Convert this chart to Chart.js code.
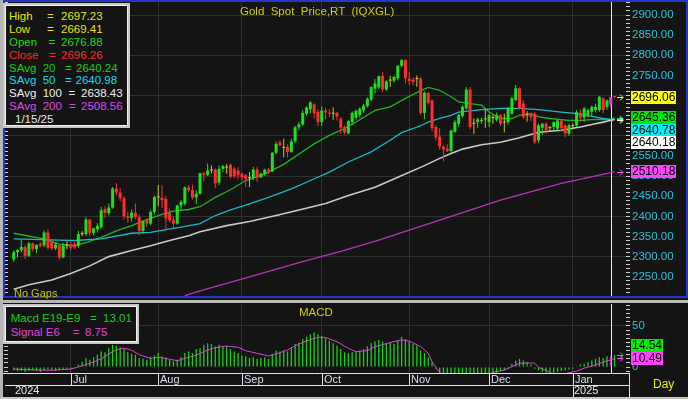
<!DOCTYPE html>
<html lang="en">
<head>
<meta charset="UTF-8">
<meta name="viewport" content="width=device-width, initial-scale=1.0">
<title>Gold Spot Price,RT (IQXGL)</title>
<script src="https://cdn.jsdelivr.net/npm/chart.js"></script>
<style>
    body, html {
        margin: 0;
        padding: 0;
        background: #141414;
    }
    #wrap {
        position: relative;
        width: 688px;
        height: 399px;
        overflow: hidden;
        background: #141414;
        font-family: "Liberation Sans", Arial, sans-serif;
    }
    canvas { position: absolute; left: 0; }
    #priceChart { top: 0; }
    #macdChart { top: 303px; }

    /* window frame bits */
    .frame { position: absolute; left: 3px; top: 0; width: 685px; height: 298px; box-sizing: border-box; border: 2px solid #2636c8; }
    .edge { position: absolute; left: 0; top: 0; width: 3px; height: 399px; background: #b4b4b4; }
    .sep { position: absolute; left: 0; top: 300px; width: 688px; height: 3px; background: #b8b8b8; }
    .bottom { position: absolute; left: 0; top: 397px; width: 688px; height: 2px; background: #c4c4c4; }
    .box { position: absolute; box-sizing: border-box; background: #141414; border: 2px solid #c8c8c8; box-shadow: inset 0 0 0 1px #f2f2f2; }
    .txt { position: absolute; white-space: pre; font-size: 11.5px; line-height: 14px; }
</style>
</head>
<body>
<div id="wrap">
    <canvas id="priceChart" width="688" height="299"></canvas>
    <canvas id="macdChart" width="688" height="96"></canvas>
    <div class="edge"></div>
    <div class="frame"></div>
    <div class="sep"></div>
    <div class="bottom"></div>
    <div class="box" style="left:3px; top:3px; width:127px; height:125px;"></div>
    <div class="box" style="left:3px; top:304px; width:136px; height:40px;"></div>
</div>

<script>
    // ---- data (daily, Jun 10 2024 .. Jan 16 2025) ----
    const months   = ['Jul', 'Aug', 'Sep', 'Oct', 'Nov', 'Dec', 'Jan'];
    const monthIdx = [15, 38, 60, 81, 104, 125, 147];
    const years    = ['2024', '2025'];
    const yearIdx  = [0, 147];
    const cursorIdx = 157;
    const cursorDate = '1/15/25';

    const opens = [
        2293, 2311, 2316, 2324, 2302, 2333, 2319, 2332, 2328, 2360,
        2336, 2320, 2328, 2298, 2327, 2330, 2332, 2327, 2356, 2356,
        2392, 2359, 2368, 2373, 2418, 2408, 2422, 2469, 2459, 2445,
        2400, 2396, 2409, 2398, 2364, 2392, 2382, 2411, 2447, 2446,
        2443, 2408, 2390, 2382, 2427, 2431, 2472, 2465, 2447, 2456,
        2507, 2503, 2514, 2516, 2484, 2518, 2521, 2528, 2518, 2514,
        2506, 2502, 2495, 2495, 2516, 2497, 2506, 2516, 2512, 2558,
        2584, 2570, 2572, 2560, 2586, 2621, 2628, 2655, 2666, 2678,
        2660, 2634, 2663, 2658, 2655, 2657, 2643, 2622, 2606, 2634,
        2645, 2652, 2663, 2674, 2690, 2717, 2720, 2749, 2715, 2737,
        2737, 2743, 2774, 2788, 2742, 2740, 2741, 2742, 2657, 2706,
        2688, 2622, 2598, 2573, 2568, 2562, 2610, 2630, 2649, 2668,
        2715, 2630, 2634, 2636, 2641, 2634, 2644, 2640, 2651, 2633,
        2634, 2655, 2689, 2718, 2680, 2651, 2655, 2655, 2589, 2620,
        2630, 2619, 2622, 2618, 2638, 2626, 2605, 2624, 2626, 2657,
        2645, 2652, 2660, 2664, 2664, 2693, 2672, 2676.88, 2697.2
    ];
    const highs = [
        2316, 2319, 2342, 2329, 2336, 2335, 2331, 2336, 2365, 2368,
        2340, 2334, 2331, 2334, 2338, 2336, 2336, 2364, 2363, 2398,
        2394, 2372, 2383, 2424, 2425, 2432, 2473, 2483, 2470, 2450,
        2411, 2417, 2432, 2404, 2390, 2394, 2415, 2451, 2478, 2477,
        2450, 2419, 2400, 2429, 2440, 2474, 2478, 2479, 2464, 2509,
        2510, 2531, 2526, 2519, 2526, 2528, 2530, 2531, 2523, 2522,
        2508, 2505, 2510, 2523, 2523, 2508, 2518, 2520, 2560, 2586,
        2589, 2593, 2579, 2592, 2625, 2634, 2664, 2673, 2686, 2681,
        2666, 2673, 2669, 2666, 2671, 2660, 2646, 2626, 2640, 2661,
        2665, 2671, 2679, 2696, 2723, 2741, 2749, 2758, 2738, 2749,
        2750, 2776, 2790, 2790, 2759, 2745, 2750, 2746, 2710, 2709,
        2690, 2626, 2619, 2576, 2579, 2615, 2639, 2654, 2675, 2721,
        2721, 2643, 2645, 2645, 2665, 2655, 2652, 2658, 2654, 2655,
        2672, 2697, 2726, 2720, 2689, 2661, 2658, 2660, 2630, 2632,
        2634, 2625, 2636, 2642, 2641, 2630, 2630, 2631, 2664, 2665,
        2672, 2668, 2675, 2680, 2699, 2695, 2690, 2697.23, 2699
    ];
    const lows = [
        2287, 2298, 2311, 2294, 2299, 2313, 2309, 2323, 2324, 2317,
        2316, 2316, 2293, 2296, 2319, 2316, 2319, 2322, 2351, 2352,
        2352, 2353, 2360, 2370, 2396, 2402, 2419, 2451, 2438, 2392,
        2384, 2387, 2393, 2353, 2358, 2375, 2378, 2405, 2425, 2421,
        2364, 2385, 2368, 2380, 2415, 2427, 2460, 2442, 2431, 2454,
        2487, 2500, 2507, 2470, 2478, 2510, 2506, 2494, 2496, 2492,
        2489, 2472, 2473, 2490, 2485, 2495, 2500, 2505, 2510, 2554,
        2574, 2547, 2546, 2558, 2583, 2614, 2625, 2650, 2656, 2643,
        2624, 2624, 2642, 2647, 2640, 2638, 2605, 2603, 2604, 2626,
        2640, 2645, 2657, 2670, 2686, 2705, 2716, 2708, 2712, 2722,
        2732, 2738, 2770, 2730, 2726, 2725, 2722, 2652, 2641, 2678,
        2611, 2589, 2565, 2537, 2560, 2558, 2607, 2623, 2645, 2665,
        2616, 2605, 2620, 2630, 2620, 2622, 2630, 2635, 2625, 2609,
        2628, 2652, 2686, 2665, 2643, 2635, 2637, 2580, 2583, 2602,
        2605, 2610, 2612, 2614, 2611, 2597, 2600, 2618, 2622, 2636,
        2635, 2644, 2650, 2658, 2660, 2656, 2665, 2669.41, 2694
    ];
    const closes = [
        2311, 2316, 2324, 2302, 2333, 2319, 2329, 2327, 2360, 2322,
        2320, 2330, 2298, 2327, 2327, 2322, 2323, 2356, 2356, 2392,
        2359, 2370, 2376, 2415, 2408, 2422, 2469, 2459, 2445, 2400,
        2396, 2409, 2398, 2364, 2387, 2382, 2411, 2448, 2447, 2440,
        2395, 2390, 2382, 2427, 2436, 2472, 2465, 2447, 2456, 2507,
        2503, 2514, 2514, 2482, 2518, 2525, 2521, 2498, 2500, 2503,
        2497, 2493, 2495, 2516, 2497, 2506, 2516, 2512, 2558, 2580,
        2577, 2570, 2560, 2586, 2621, 2628, 2657, 2670, 2683, 2656,
        2634, 2663, 2658, 2655, 2655, 2648, 2620, 2608, 2636, 2657,
        2662, 2667, 2675, 2692, 2721, 2730, 2748, 2715, 2735, 2737,
        2746, 2774, 2788, 2743, 2736, 2734, 2741, 2657, 2707, 2682,
        2619, 2596, 2573, 2566, 2562, 2613, 2634, 2651, 2672, 2715,
        2622, 2630, 2641, 2640, 2641, 2651, 2644, 2652, 2630, 2633,
        2668, 2693, 2718, 2668, 2647, 2651, 2647, 2584, 2626, 2630,
        2613, 2619, 2634, 2638, 2619, 2606, 2626, 2624, 2659, 2645,
        2668, 2663, 2672, 2672, 2697, 2664, 2688, 2696.26, 2696.06
    ];

    // simple averages (day index, value)
    const sma20X = [0, 8, 12, 16, 19, 23, 27, 31, 35, 39, 42, 46, 49, 53, 57, 61, 65, 67, 71, 75, 79, 83, 87, 91, 95, 99, 103, 107, 109, 112, 115, 117, 120, 123, 125, 128, 131, 133, 136, 138, 141, 144, 146, 149, 152, 155, 157, 158];
    const sma20Y = [2358, 2344, 2331, 2327, 2335, 2348, 2364, 2377, 2392, 2405, 2413, 2417, 2424, 2447, 2466, 2489, 2501, 2510, 2529, 2555, 2580, 2601, 2618, 2640, 2663, 2672, 2693, 2712, 2720, 2713, 2697, 2684, 2680, 2676, 2659, 2643, 2643, 2651, 2655, 2647, 2643, 2640, 2638, 2638, 2640, 2641, 2640.24, 2645.36];
    const sma50X = [0, 12, 16, 23, 31, 36, 40, 44, 49, 53, 57, 62, 67, 73, 78, 83, 88, 94, 99, 102, 104, 107, 109, 112, 115, 117, 123, 128, 133, 138, 144, 148, 152, 155, 157, 158];
    const sma50Y = [2344, 2341, 2340, 2344, 2358, 2360, 2367, 2373, 2382, 2402, 2416, 2431, 2447, 2468, 2489, 2510, 2535, 2560, 2589, 2608, 2615, 2625, 2634, 2643, 2651, 2659, 2665, 2668, 2668, 2665, 2659, 2655, 2648, 2643, 2640.98, 2640.78];
    const sma100X = [0, 4, 10, 15, 20, 25, 31, 36, 41, 46, 49, 56, 62, 69, 75, 82, 88, 95, 101, 108, 112, 115, 118, 123, 128, 133, 138, 144, 149, 152, 155, 157, 158];
    const sma100Y = [2219, 2230, 2242, 2258, 2277, 2300, 2315, 2327, 2340, 2352, 2362, 2377, 2387, 2402, 2416, 2432, 2452, 2472, 2497, 2526, 2544, 2556, 2567, 2578, 2584, 2595, 2609, 2614, 2622, 2628, 2634, 2638.43, 2640.18];
    const sma200X = [45, 49, 62, 75, 86, 96, 115, 128, 144, 157, 158];
    const sma200Y = [2203, 2215, 2250, 2285, 2313, 2341, 2400, 2440, 2482, 2508.56, 2510.18];

    // MACD E19-E9 per day, and its E6 signal (day index, value)
    const macd = [
        -4, -5, -5, -6, -5, -4, -5, -6, -4, -3, -4, -5, -4, -3, -2, -2, -1,
        3, 6, 11, 9, 12, 15, 19, 18, 23, 27, 26, 24, 22,
        18, 16, 15, 11, 10, 9, 12, 14, 17, 13,
        12, 9, 7, 9, 12, 17, 19, 17, 22, 23,
        27, 29, 28, 25, 27, 24, 25, 22, 19, 17,
        14, 13, 11, 12, 10, 11, 12, 10, 16, 20,
        19, 20, 19, 24, 28, 30, 34, 37, 40, 42,
        40, 38, 35, 32, 29, 26, 22, 18, 17, 18,
        19, 20, 22, 25, 29, 31, 33, 31, 29, 30,
        28, 32, 37, 34, 31, 28, 26, 20, 17, 12,
        6, -2,
        -8, -13, -18, -22, -24, -23, -21, -19, -16, -14, -12, -11, -10, -9, -8, -7, -5, -4, -2,
        4, 8, 10, 8, 6, 3,
        -2, -4, -6, -7, -8, -7, -6, -5, -4, -3, -2,
        1, 3, 4, 6, 8, 10, 12, 11, 13, 13.01, 14.54
    ];
    const signalX = [0, 5, 10, 15, 17, 19, 21, 23, 25, 27, 29, 31, 33, 36, 38, 41, 43, 46, 48, 51, 53, 56, 59, 61, 64, 67, 69, 72, 74, 77, 80, 82, 85, 88, 90, 93, 95, 98, 100, 102, 104, 107, 109, 110, 112, 115, 119, 123, 126, 129, 132, 133, 136, 137, 138, 140, 141, 143, 145, 148, 150, 153, 155, 157, 158];
    const signalY = [-2.5, -3.5, -4, -2.5, 0, 3, 6, 10, 16, 21, 23, 20.5, 15, 10.5, 11.8, 9.4, 7.7, 11.8, 14.6, 20.7, 23.5, 25.6, 24, 19.9, 16.7, 13.4, 15.9, 20.7, 25.6, 32, 36.2, 36, 30.9, 22.8, 18.7, 20, 24.8, 28.5, 31, 33, 31.5, 25, 16.7, 6.5, -7, -14, -17, -13, -6.5, -3.7, 2.4, 4.5, 5, 4.5, -0.5, -4, -7, -9, -8, -5, -1.4, 2.4, 6, 8.75, 10.49];

    // ---- helpers ----
    const FONT = "'Liberation Sans', Arial, sans-serif";
    const xMin = -1.5, xMax = 161;
    const last = closes.length - 1;
    const pts = (xs, ys) => xs.map((x, k) => ({ x: x, y: ys[k] }));
    const valueAt = (xs, ys, i) => ys[xs.indexOf(i)];

    const priceTicks = [];
    for (let v = 2210; v <= 2930; v += 10) priceTicks.push(v);
    const macdTicks = [];
    for (let v = -5; v <= 75; v += 5) macdTicks.push(v);

    function candleColor(i) {
        if (i === cursorIdx) return '#e43ee4';
        const d = closes[i] - opens[i];
        if (Math.abs(d) < 0.5) return '#c9c914';
        return d > 0 ? '#1ce21c' : '#ff2d2d';
    }

    function cursorLine(chart) {
        const { ctx, chartArea, scales } = chart;
        const x = Math.round(scales.x.getPixelForValue(cursorIdx)) + 0.5;
        ctx.save();
        ctx.strokeStyle = '#ececec';
        ctx.lineWidth = 1;
        ctx.beginPath();
        ctx.moveTo(x, chartArea.top);
        ctx.lineTo(x, chartArea.bottom);
        ctx.stroke();
        ctx.restore();
    }

    // last-value boxes on the right axis, nudged apart like the original
    function drawTags(chart, tags, width, up) {
        const { ctx, scales } = chart;
        tags.forEach(t => { t.py = scales.y.getPixelForValue(t.v); });
        const order = tags.slice().sort((a, b) => up ? b.py - a.py : a.py - b.py);
        let prev = null;
        order.forEach(t => {
            t.ty = t.py;
            if (prev !== null) t.ty = up ? Math.min(t.py, prev - 12.5) : Math.max(t.py, prev + 12.5);
            prev = t.ty;
        });
        ctx.save();
        ctx.font = '12px ' + FONT;
        ctx.textBaseline = 'middle';
        ctx.lineWidth = 1;
        tags.forEach(t => {
            const y = Math.round(t.py) + 0.5;
            ctx.strokeStyle = t.bg;
            ctx.beginPath();
            ctx.moveTo(617, y); ctx.lineTo(623, y);
            ctx.moveTo(620, y - 3); ctx.lineTo(623, y); ctx.lineTo(620, y + 3);
            ctx.stroke();
        });
        tags.forEach(t => {
            const top = Math.round(t.ty - 6.5);
            ctx.fillStyle = t.bg;
            ctx.fillRect(631, top, width, 13);
            ctx.fillStyle = '#000';
            ctx.fillText(t.v.toFixed(2), 632, top + 7);
        });
        ctx.restore();
    }

    function drawDateStrip(chart) {
        const { ctx, chartArea, scales } = chart;
        const top = chartArea.bottom;
        const px = i => Math.round(scales.x.getPixelForValue(i));
        ctx.save();
        ctx.strokeStyle = '#e4e4e4';
        ctx.lineWidth = 1;
        ctx.beginPath();
        ctx.moveTo(0, top + 0.5); ctx.lineTo(629, top + 0.5);
        ctx.moveTo(5, top + 12.5); ctx.lineTo(629, top + 12.5);
        ctx.moveTo(629.5, top); ctx.lineTo(629.5, top + 24);
        monthIdx.forEach(m => {
            ctx.moveTo(px(m) + 0.5, top);
            ctx.lineTo(px(m) + 0.5, yearIdx.includes(m) ? top + 24 : top + 12);
        });
        ctx.stroke();
        ctx.font = '11px ' + FONT;
        ctx.textBaseline = 'middle';
        ctx.fillStyle = '#d8dcf0';
        months.forEach((name, k) => ctx.fillText(name, px(monthIdx[k]) + 2, top + 7));
        ctx.fillStyle = '#e8e8e8';
        years.forEach((name, k) => ctx.fillText(name, px(yearIdx[k]) + 1, top + 18));
        ctx.restore();
    }

    const xScale = {
        type: 'linear', min: xMin, max: xMax, offset: false,
        grid: { color: '#303030', offset: false, drawTicks: false },
        border: { display: false },
        ticks: { display: false },
        afterBuildTicks: s => { s.ticks = monthIdx.map(v => ({ value: v })); },
        afterFit: s => { s.height = 0; }
    };

    function sideTicks(list) {
        return {
            type: 'linear', position: 'left', min: 0, max: 1,
            grid: { drawOnChartArea: false, tickLength: 4, tickColor: '#d0d0d0' },
            border: { display: false },
            ticks: { display: false },
            afterBuildTicks: s => { s.ticks = list.map(v => ({ value: v })); },
            afterFit: s => { s.width = 4; s.paddingTop = 0; s.paddingBottom = 0; }
        };
    }

    const common = {
        responsive: false,
        animation: false,
        devicePixelRatio: 1,
        events: [],
        plugins: { legend: { display: false }, tooltip: { enabled: false } }
    };

    // ---- price pane ----
    const days = closes.map((c, i) => i);
    const priceMin = 2202.2, priceMax = 2932.3;
    const leftPrice = sideTicks(priceTicks);
    leftPrice.min = priceMin; leftPrice.max = priceMax;

    new Chart(document.getElementById('priceChart'), {
        type: 'bar',
        data: {
            datasets: [
                { type: 'line', data: pts(sma200X, sma200Y), borderColor: '#b537b5', borderWidth: 1.3, pointRadius: 0, yAxisID: 'y', order: 2, clip: 0 },
                { type: 'line', data: pts(sma100X, sma100Y), borderColor: '#c8c8c8', borderWidth: 1.6, pointRadius: 0, yAxisID: 'y', order: 2, clip: 0 },
                { type: 'line', data: pts(sma50X, sma50Y), borderColor: '#17b9c9', borderWidth: 1.3, pointRadius: 0, yAxisID: 'y', order: 2, clip: 0 },
                { type: 'line', data: pts(sma20X, sma20Y), borderColor: '#1fb51f', borderWidth: 1.3, pointRadius: 0, yAxisID: 'y', order: 2, clip: 0 },
                {
                    data: days.map(i => ({ x: i, y: [lows[i], highs[i]] })),
                    backgroundColor: ctx => candleColor(ctx.dataIndex),
                    barThickness: 1, maxBarThickness: 1, grouped: false, inflateAmount: 0,
                    yAxisID: 'y', order: 1, clip: 0
                },
                {
                    data: days.map(i => ({ x: i, y: [opens[i], closes[i]] })),
                    backgroundColor: ctx => candleColor(ctx.dataIndex),
                    barThickness: 3, maxBarThickness: 3, minBarLength: 1, grouped: false, inflateAmount: 0,
                    yAxisID: 'y', order: 0, clip: 0
                }
            ]
        },
        options: Object.assign({}, common, {
            layout: { padding: { left: 4, right: 0, top: 2, bottom: 3 } },
            scales: {
                x: xScale,
                y: {
                    type: 'linear', position: 'right', min: priceMin, max: priceMax, beginAtZero: false,
                    afterBuildTicks: s => { s.ticks = priceTicks.map(v => ({ value: v })); },
                    ticks: {
                        autoSkip: false, color: '#22c4dc', padding: 2, font: { family: FONT, size: 11.5 },
                        callback: v => (v % 50 === 0 && v >= 2250 && v <= 2900) ? v.toFixed(2) : ''
                    },
                    grid: {
                        color: c => (c.tick && c.tick.value % 100 === 0) ? '#303030' : 'rgba(0,0,0,0)',
                        tickColor: '#d0d0d0', tickLength: 4
                    },
                    border: { display: false },
                    afterFit: s => { s.width = 62; s.paddingTop = 0; s.paddingBottom = 0; }
                },
                yl: leftPrice
            }
        }),
        plugins: [{
            id: 'priceOverlay',
            beforeDatasetsDraw: cursorLine,
            afterDraw: chart => drawTags(chart, [
                { v: closes[last], bg: '#ffff00' },
                { v: sma20Y[sma20Y.length - 1], bg: '#00e400' },
                { v: sma50Y[sma50Y.length - 1], bg: '#00eef4' },
                { v: sma100Y[sma100Y.length - 1], bg: '#ffffff' },
                { v: sma200Y[sma200Y.length - 1], bg: '#ff44ff' }
            ], 45, false)
        }]
    });

    // ---- MACD pane ----
    const macdMin = -7.3, macdMax = 76.8;
    const leftMacd = sideTicks(macdTicks);
    leftMacd.min = macdMin; leftMacd.max = macdMax;

    new Chart(document.getElementById('macdChart'), {
        type: 'bar',
        data: {
            datasets: [
                { type: 'line', data: pts(signalX, signalY), borderColor: '#e040e0', borderWidth: 1, pointRadius: 0, yAxisID: 'y', order: 0, clip: 0 },
                {
                    data: days.map(i => ({ x: i, y: macd[i] })),
                    backgroundColor: ctx => ctx.dataIndex === cursorIdx ? '#e040e0' : '#14d414',
                    barThickness: 1.3, maxBarThickness: 1.3, grouped: false, inflateAmount: 0,
                    yAxisID: 'y', order: 1, clip: 0
                }
            ]
        },
        options: Object.assign({}, common, {
            layout: { padding: { left: 4, right: 0, top: 1, bottom: 26 } },
            scales: {
                x: xScale,
                y: {
                    type: 'linear', position: 'right', min: macdMin, max: macdMax, beginAtZero: false,
                    afterBuildTicks: s => { s.ticks = macdTicks.map(v => ({ value: v })); },
                    ticks: {
                        autoSkip: false, color: '#22c4dc', padding: 2, font: { family: FONT, size: 11.5 },
                        callback: v => (v === 0 || v === 50) ? String(v) : ''
                    },
                    grid: {
                        color: c => (c.tick && c.tick.value === 50) ? '#303030' : 'rgba(0,0,0,0)',
                        tickColor: '#d0d0d0', tickLength: 4
                    },
                    border: { display: false },
                    afterFit: s => { s.width = 62; s.paddingTop = 0; s.paddingBottom = 0; }
                },
                yl: leftMacd
            }
        }),
        plugins: [{
            id: 'macdOverlay',
            beforeDatasetsDraw: cursorLine,
            afterDraw: chart => {
                drawTags(chart, [
                    { v: macd[last], bg: '#00ee00' },
                    { v: signalY[signalY.length - 1], bg: '#ff44ff' }
                ], 32, true);
                drawDateStrip(chart);
            }
        }]
    });

    // ---- text overlays ----
    const wrap = document.getElementById('wrap');
    function addText(text, x, yc, color, size) {
        const el = document.createElement('div');
        el.className = 'txt';
        el.textContent = text;
        el.style.left = x + 'px';
        el.style.top = (yc - 7) + 'px';
        el.style.color = color;
        if (size) el.style.fontSize = size + 'px';
        wrap.appendChild(el);
    }

    const c = cursorIdx;
    const legendRows = [
        ['High', highs[c], '#e4e400', 47, 61],
        ['Low', lows[c], '#e4e400', 47, 61],
        ['Open', opens[c], '#14dc14', 48.5, 61],
        ['Close', closes[c], '#ff2828', 49, 61],
        ['SAvg  20', valueAt(sma20X, sma20Y, c), '#14d014', 65, 76],
        ['SAvg  50', valueAt(sma50X, sma50Y, c), '#14d8e8', 65, 75.5],
        ['SAvg  100', valueAt(sma100X, sma100Y, c), '#f0f0f0', 68.5, 81],
        ['SAvg  200', valueAt(sma200X, sma200Y, c), '#e040e8', 69, 81]
    ];
    legendRows.forEach((r, k) => {
        const yc = 15.7 + k * 12.95;
        addText(r[0], 9, yc, r[2]);
        addText('=', r[3], yc, r[2]);
        addText(r[1].toFixed(2), r[4], yc, r[2]);
    });
    addText(cursorDate, 15, 15.7 + 8 * 12.95, '#e8e8e8');

    addText('Macd E19-E9', 10.7, 318.3, '#14d014');
    addText('=', 90, 318.3, '#14d014');
    addText(macd[c].toFixed(2), 103, 318.3, '#14d014');
    addText('Signal E6', 10.7, 331.7, '#e040e0');
    addText('=', 72.7, 331.7, '#e040e0');
    addText(valueAt(signalX, signalY, c).toFixed(2), 85, 331.7, '#e040e0');

    addText('Gold  Spot  Price,RT  (IQXGL)', 240, 11, '#d0d000');
    addText('No Gaps', 14, 292.5, '#c8c800', 11);
    addText('MACD', 299, 312, '#d0d000');
    addText('Day', 653, 384, '#e8e800', 12);
</script>
</body>
</html>
